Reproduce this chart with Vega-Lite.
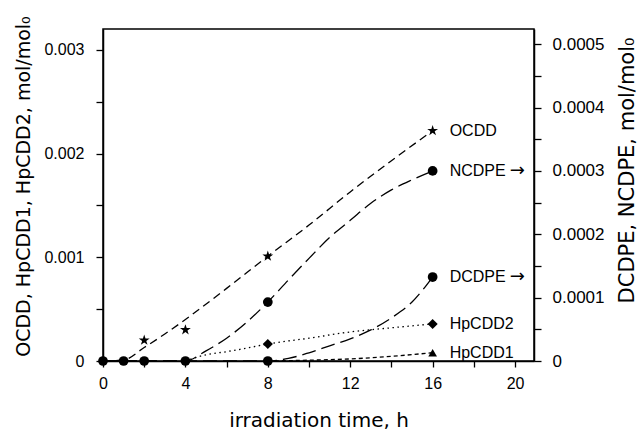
{
  "$schema": "https://vega.github.io/schema/vega-lite/v6.json",
  "width": 431,
  "height": 332,
  "autosize": {"type": "none"},
  "padding": {"left": 103, "top": 29, "right": 109, "bottom": 69},
  "background": "white",
  "config": {
    "view": {"stroke": "black", "strokeWidth": 1.5},
    "font": "Liberation Sans",
    "axis": {
      "domainColor": "black", "domainWidth": 1.5,
      "tickColor": "black", "tickWidth": 1.3, "tickSize": 7,
      "labelColor": "black", "labelFont": "Liberation Sans", "labelFontSize": 16,
      "titleFont": "DejaVu Sans", "titleFontSize": 19, "titleFontWeight": "normal", "titleColor": "black",
      "grid": false, "labelOverlap": false, "labelFlush": false
    }
  },
  "datasets": {
    "fitL": [
      {"series": "OCDD", "t": 0, "v": 0},
      {"series": "OCDD", "t": 1, "v": 0.00001},
      {"series": "OCDD", "t": 2, "v": 0.00013},
      {"series": "OCDD", "t": 3, "v": 0.00026},
      {"series": "OCDD", "t": 4, "v": 0.0004},
      {"series": "OCDD", "t": 6, "v": 0.0007},
      {"series": "OCDD", "t": 8, "v": 0.00101},
      {"series": "OCDD", "t": 10, "v": 0.00131},
      {"series": "OCDD", "t": 12, "v": 0.00163},
      {"series": "OCDD", "t": 14, "v": 0.00193},
      {"series": "OCDD", "t": 16, "v": 0.00222},
      {"series": "HpCDD2", "t": 4, "v": 0},
      {"series": "HpCDD2", "t": 5, "v": 0.00006},
      {"series": "HpCDD2", "t": 6, "v": 0.00009},
      {"series": "HpCDD2", "t": 7, "v": 0.000125},
      {"series": "HpCDD2", "t": 8, "v": 0.000164},
      {"series": "HpCDD2", "t": 10, "v": 0.00022},
      {"series": "HpCDD2", "t": 12, "v": 0.00028},
      {"series": "HpCDD2", "t": 14, "v": 0.00032},
      {"series": "HpCDD2", "t": 16, "v": 0.000357},
      {"series": "HpCDD1", "t": 8, "v": 0},
      {"series": "HpCDD1", "t": 10, "v": 0.000008},
      {"series": "HpCDD1", "t": 12, "v": 0.00002},
      {"series": "HpCDD1", "t": 14, "v": 0.000045},
      {"series": "HpCDD1", "t": 16, "v": 0.00008}
    ],
    "fitR": [
      {"series": "NCDPE", "t": 0, "v": 0},
      {"series": "NCDPE", "t": 4, "v": 0},
      {"series": "NCDPE", "t": 5, "v": 0.000016},
      {"series": "NCDPE", "t": 6, "v": 0.000036},
      {"series": "NCDPE", "t": 7, "v": 0.000062},
      {"series": "NCDPE", "t": 8, "v": 0.000093},
      {"series": "NCDPE", "t": 9, "v": 0.000128},
      {"series": "NCDPE", "t": 10, "v": 0.000162},
      {"series": "NCDPE", "t": 11, "v": 0.000195},
      {"series": "NCDPE", "t": 12, "v": 0.000222},
      {"series": "NCDPE", "t": 13, "v": 0.000249},
      {"series": "NCDPE", "t": 14, "v": 0.00027},
      {"series": "NCDPE", "t": 15, "v": 0.000286},
      {"series": "NCDPE", "t": 16, "v": 0.0003},
      {"series": "DCDPE", "t": 0, "v": 0},
      {"series": "DCDPE", "t": 8, "v": 0},
      {"series": "DCDPE", "t": 9, "v": 0.000004},
      {"series": "DCDPE", "t": 10, "v": 0.000013},
      {"series": "DCDPE", "t": 11, "v": 0.000024},
      {"series": "DCDPE", "t": 12, "v": 0.000035},
      {"series": "DCDPE", "t": 13, "v": 0.000049},
      {"series": "DCDPE", "t": 14, "v": 0.000068},
      {"series": "DCDPE", "t": 15, "v": 0.000093},
      {"series": "DCDPE", "t": 16, "v": 0.0001325}
    ],
    "obsL": [
      {"series": "OCDD", "t": 2, "v": 0.0002},
      {"series": "OCDD", "t": 4, "v": 0.0003},
      {"series": "OCDD", "t": 8, "v": 0.00101},
      {"series": "OCDD", "t": 16, "v": 0.00222},
      {"series": "HpCDD2", "t": 8, "v": 0.000164},
      {"series": "HpCDD2", "t": 16, "v": 0.000357},
      {"series": "HpCDD1", "t": 16, "v": 0.00008}
    ],
    "obsR": [
      {"series": "NCDPE", "t": 0, "v": 0},
      {"series": "NCDPE", "t": 1, "v": 0},
      {"series": "NCDPE", "t": 2, "v": 0},
      {"series": "NCDPE", "t": 4, "v": 0},
      {"series": "NCDPE", "t": 8, "v": 0.000093},
      {"series": "NCDPE", "t": 16, "v": 0.0003},
      {"series": "DCDPE", "t": 8, "v": 0},
      {"series": "DCDPE", "t": 16, "v": 0.0001325}
    ],
    "labL": [
      {"label": "OCDD", "t": 16, "v": 0.00222},
      {"label": "HpCDD2", "t": 16, "v": 0.000357},
      {"label": "HpCDD1", "t": 16, "v": 0.00008}
    ],
    "labR": [
      {"label": "NCDPE", "arrow": "→", "t": 16, "v": 0.0003},
      {"label": "DCDPE", "arrow": "→", "t": 16, "v": 0.0001325}
    ]
  },
  "encoding": {
    "x": {
      "field": "t", "type": "quantitative",
      "scale": {"domain": [0, 20.92], "nice": false, "zero": false},
      "axis": {
        "values": [0, 2, 4, 6, 8, 10, 12, 14, 16, 18, 20],
        "labelExpr": "datum.value % 4 === 0 ? datum.label : ''",
        "tickSize": 6, "labelPadding": 8,
        "title": "irradiation time, h", "titleFontSize": 20, "titlePadding": 19
      }
    }
  },
  "layer": [
    {
      "encoding": {
        "y": {
          "field": "v", "type": "quantitative",
          "scale": {"domain": [0, 0.0032], "nice": false},
          "axis": {
            "orient": "left",
            "values": [0, 0.0005, 0.001, 0.0015, 0.002, 0.0025, 0.003],
            "labelExpr": "datum.value == 0 ? '0' : (abs(datum.value*1000 - round(datum.value*1000)) < 0.001 ? format(datum.value, '.3f') : '')",
            "labelPadding": 12,
            "title": "OCDD, HpCDD1, HpCDD2, mol/mol₀", "titlePadding": 10, "titleY": 157
          }
        }
      },
      "layer": [
        {
          "data": {"name": "fitL"},
          "mark": {"type": "line", "interpolate": "monotone", "color": "black", "strokeWidth": 1.3},
          "encoding": {
            "strokeDash": {"field": "series", "type": "nominal", "scale": {"domain": ["OCDD", "HpCDD2", "HpCDD1"], "range": [[8, 5], [1.5, 3.5], [4, 3]]}, "legend": null}
          }
        },
        {
          "data": {"name": "obsL"},
          "mark": {"type": "point", "filled": true, "color": "black", "opacity": 1},
          "encoding": {
            "shape": {"field": "series", "type": "nominal", "scale": {"domain": ["OCDD", "HpCDD2", "HpCDD1"], "range": ["M0,-1L0.2245,-0.309L0.951,-0.309L0.363,0.118L0.588,0.809L0,0.382L-0.588,0.809L-0.363,0.118L-0.951,-0.309L-0.2245,-0.309Z", "diamond", "triangle-up"]}, "legend": null},
            "size": {"field": "series", "type": "nominal", "scale": {"domain": ["OCDD", "HpCDD2", "HpCDD1"], "range": [130, 75, 60]}, "legend": null}
          }
        },
        {
          "data": {"name": "labL"},
          "mark": {"type": "text", "align": "left", "baseline": "middle", "dx": 17, "fontSize": 16, "color": "black", "font": "Liberation Sans"},
          "encoding": {"text": {"field": "label"}}
        }
      ]
    },
    {
      "encoding": {
        "y": {
          "field": "v", "type": "quantitative",
          "scale": {"domain": [0, 0.000524], "nice": false},
          "axis": {
            "orient": "right",
            "values": [0, 0.00005, 0.0001, 0.00015, 0.0002, 0.00025, 0.0003, 0.00035, 0.0004, 0.00045, 0.0005],
            "labelExpr": "datum.value == 0 ? '0' : (abs(datum.value*10000 - round(datum.value*10000)) < 0.001 ? format(datum.value, '.4f') : '')",
            "labelPadding": 11, "labelFontSize": 17,
            "title": "DCDPE, NCDPE, mol/mol₀", "titleAngle": 270, "titleFontSize": 21, "titlePadding": 34, "titleY": 141
          }
        }
      },
      "layer": [
        {
          "data": {"name": "fitR"},
          "mark": {"type": "line", "interpolate": "monotone", "color": "black", "strokeWidth": 1.3},
          "encoding": {
            "detail": {"field": "series", "type": "nominal"},
            "strokeDash": {"value": [14, 6]}
          }
        },
        {
          "data": {"name": "obsR"},
          "mark": {"type": "point", "shape": "circle", "filled": true, "color": "black", "opacity": 1, "size": 95},
          "encoding": {}
        },
        {
          "data": {"name": "labR"},
          "mark": {"type": "text", "align": "left", "baseline": "middle", "dx": 17, "fontSize": 16, "color": "black", "font": "Liberation Sans"},
          "encoding": {"text": {"field": "label"}}
        },
        {
          "data": {"name": "labR"},
          "mark": {"type": "text", "align": "left", "baseline": "middle", "dx": 77, "fontSize": 18, "color": "black", "font": "DejaVu Sans"},
          "encoding": {"text": {"field": "arrow"}}
        }
      ]
    }
  ],
  "resolve": {"scale": {"y": "independent"}}
}
